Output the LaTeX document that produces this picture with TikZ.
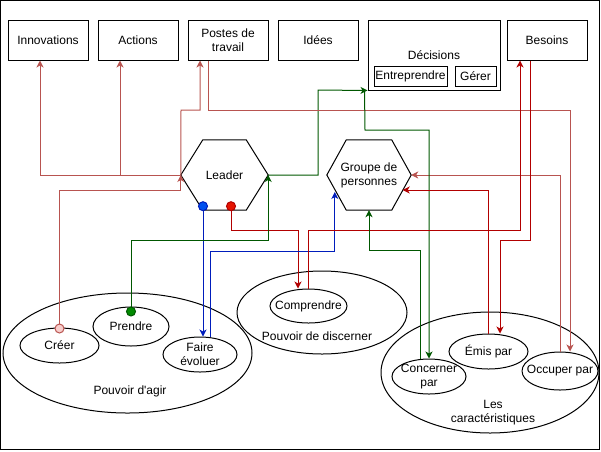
\documentclass[tikz,border=0pt]{standalone}
\usepackage{fontspec}
\setmainfont{Liberation Sans}
\usetikzlibrary{arrows.meta,shapes.geometric}

\definecolor{lred}{HTML}{B85450}
\definecolor{dred}{HTML}{B20000}
\definecolor{grn}{HTML}{005700}
\definecolor{blu}{HTML}{001DBC}
\definecolor{pinkdot}{HTML}{F8CECC}
\definecolor{reddot}{HTML}{E51400}
\definecolor{bludot}{HTML}{0050EF}
\definecolor{grndot}{HTML}{008A00}

\begin{document}
\begin{tikzpicture}[x=1pt,y=-1pt,
  font=\fontsize{12}{14}\selectfont,
  tbox/.style={draw, line width=1pt, minimum width=80pt, minimum height=40pt, inner sep=0pt, align=center},
  sbox/.style={draw, line width=1pt, minimum height=20pt, inner sep=0pt, align=center},
  hexn/.style={minimum width=#1, minimum height=70pt, inner sep=0pt, align=center},
  hexline/.style={draw, line width=1pt},
  ov/.style={draw, line width=1pt, ellipse, inner sep=0pt},
  lbl/.style={inner sep=0pt, align=center},
  conn/.style={line width=1pt, -{Stealth[length=7pt,width=7pt,inset=2pt]}},
  dotstart/.style={{Circle[length=10pt,fill=#1]}-{Stealth[length=7pt,width=7pt,inset=2pt]}}
]
\useasboundingbox (0,0) rectangle (601,451);
\draw[line width=1pt] (0.5,0.5) rectangle (599.5,449.5);

% top row of boxes
\node[tbox] (innov) at (48,40) {Innovations};
\node[tbox] (actions) at (138,40) {Actions};
\node[tbox] (postes) at (228,40) {Postes de\\travail};
\node[tbox] (idees) at (318,40) {Idées};
\node[tbox, minimum width=132pt, minimum height=70pt] (decisions) at (434,55) {Décisions};
\node[sbox, minimum width=73pt] (entre) at (410.5,76) {Entreprendre};
\node[sbox, minimum width=41pt] (gerer) at (475.5,76) {Gérer};
\node[tbox] (besoins) at (547,40) {Besoins};

% hexagons
\node[hexn=87pt] (leader) at (224.5,175) {Leader};
\draw[hexline] (leader.west) -- ([xshift=22pt]leader.north west) -- ([xshift=-22pt]leader.north east)
  -- (leader.east) -- ([xshift=-22pt]leader.south east) -- ([xshift=22pt]leader.south west) -- cycle;
\node[hexn=84pt] (groupe) at (369,175) {Groupe de\\personnes};
\draw[hexline] (groupe.west) -- ([xshift=19.5pt]groupe.north west) -- ([xshift=-19.5pt]groupe.north east)
  -- (groupe.east) -- ([xshift=-19.5pt]groupe.south east) -- ([xshift=19.5pt]groupe.south west) -- cycle;

% Pouvoir d'agir
\node[ov, minimum width=249pt, minimum height=120pt] (agir) at (127.5,353) {};
\node[lbl] (agirlbl) at (130,391) {Pouvoir d\textquotesingle agir};
\node[ov, minimum width=79pt, minimum height=35pt] (creer) at (59.5,345.5) {};
\node[lbl] at (creer) {Créer};
\node[ov, minimum width=76pt, minimum height=39pt] (prendre) at (131,326.5) {};
\node[lbl] at (prendre) {Prendre};
\node[ov, minimum width=74pt, minimum height=35pt] (faire) at (200,354.5) {};
\node[lbl] at (faire) {Faire\\évoluer};

% Pouvoir de discerner
\node[ov, minimum width=170pt, minimum height=83pt] (discerner) at (322,312.5) {};
\node[lbl] (discernerlbl) at (317,336) {Pouvoir de discerner};
\node[ov, minimum width=77pt, minimum height=34pt] (comprendre) at (308.5,306) {};
\node[lbl] at (comprendre) {Comprendre};

% Les caractéristiques
\node[ov, minimum width=218pt, minimum height=121pt] (caract) at (490,372.5) {};
\node[lbl] (caractlbl) at (493,413) {Les\\caractéristiques};
\node[ov, minimum width=74pt, minimum height=35pt] (concerner) at (429,376.5) {};
\node[lbl] at (concerner) {Concerner\\par};
\node[ov, minimum width=79pt, minimum height=35pt] (emis) at (488.5,351.5) {};
\node[lbl] at (emis) {Émis par};
\node[ov, minimum width=76pt, minimum height=38pt] (occuper) at (560,371) {};
\node[lbl] at (occuper) {Occuper par};

% connectors from the leader
\draw[conn, lred] (leader.west) -| ([xshift=-8pt]innov.south);
\draw[conn, lred] (leader.west) -| ([xshift=-18pt]actions.south);
\draw[conn, lred] (leader.west) -- (181,110) -| ([xshift=-28pt]postes.south);
\draw[conn, grn] (leader.east) -| (318,90) -- (decisions.south west);
\draw[line width=1pt, blu, dotstart=bludot] ([xshift=-21.5pt,yshift=9pt]leader.south) -- ([xshift=3pt]faire.north);
\draw[line width=1pt, dred, dotstart=reddot] ([xshift=6.5pt,yshift=9pt]leader.south) -- (231,230) -| ([xshift=-10.5pt]comprendre.north);

% connectors towards the leader
\draw[line width=1pt, lred, dotstart=pinkdot] ([yshift=-6pt]creer.north) -- (59.5,190) -| (leader.west);
\draw[line width=1pt, grn, dotstart=grndot] ([yshift=-10pt]prendre.north) -- (131,240) -| (leader.east);

% other connectors
\draw[conn, lred] ([xshift=-20pt]postes.south) -- (208,110) -| ([xshift=10pt]occuper.north);
\draw[conn, lred] (occuper.north) |- (groupe.east);
\draw[conn, grn] ([xshift=-3pt]decisions.south west) -- (365,130) -| (concerner.north);
\draw[conn, blu] ([xshift=10pt]faire.north) -- (210,251) -| ([xshift=8pt,yshift=-17pt]groupe.west);
\draw[conn, dred] (comprendre.north) -- (308.5,230) -| ([xshift=-27pt]besoins.south);
\draw[conn, dred] ([xshift=-17pt]besoins.south) -- (530,240) -| ([xshift=11.5pt]emis.north);
\draw[conn, dred] (emis.north) |- ([xshift=-8.5pt,yshift=-15pt]groupe.east);
\draw[conn, grn] ([xshift=-9pt]concerner.north) -- (420,250) -| (groupe.south);
\end{tikzpicture}
\end{document}
